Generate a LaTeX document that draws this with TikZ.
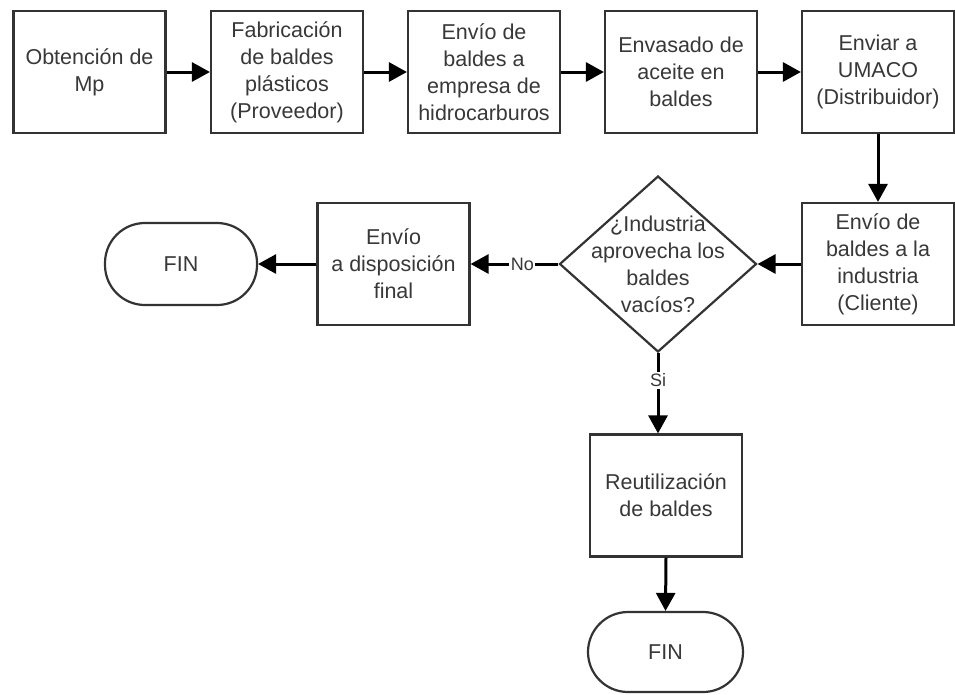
\documentclass[tikz,border=0pt]{standalone}
\usepackage{fontspec}
\setmainfont{Liberation Sans}
\usetikzlibrary{arrows.meta,shapes.geometric}
\definecolor{edge}{HTML}{333333}
\definecolor{ink}{HTML}{383838}
\tikzset{
  proc/.style={draw=edge, line width=2.2pt, fill=white, minimum width=152pt,
    minimum height=122pt, inner sep=2pt, align=center, text=ink,
    font=\fontsize{21.5}{27}\selectfont},
  term/.style={proc, rounded corners=40pt, minimum height=82pt},
  decision/.style={diamond, draw=edge, line width=2.2pt, fill=white,
    minimum width=197pt, minimum height=176pt, inner sep=0pt},
  qtext/.style={align=center, text=ink, inner sep=0pt,
    font=\fontsize{21.5}{27}\selectfont},
  flow/.style={line width=3pt, -{Triangle[length=18pt,width=19pt]}},
  tag/.style={fill=white, inner sep=1.5pt, text=ink,
    font=\fontsize{18}{20}\selectfont}
}
\begin{document}
\begin{tikzpicture}[x=1pt, y=-1pt]
  \fill[white] (0,0) rectangle (955,694);
  \useasboundingbox (0,0) rectangle (955,694);

  % top row
  \node[proc] (b1) at (89.5,72) {Obtención de\\Mp};
  \node[proc] (b2) at (287,72) {Fabricación\\de baldes\\plásticos\\(Proveedor)};
  \node[proc] (b3) at (484,72) {Envío de\\baldes a\\empresa de\\hidrocarburos};
  \node[proc] (b4) at (681,72) {Envasado de\\aceite en\\baldes};
  \node[proc] (b5) at (878,72) {Enviar a\\UMACO\\(Distribuidor)};

  % middle row
  \node[proc] (b6) at (878,264) {Envío de\\baldes a la\\industria\\(Cliente)};
  \node[decision] (d) at (658,264) {};
  \node[qtext] (dq) at (d.center) {¿Industria\\aprovecha los\\baldes\\vacíos?};
  \node[proc] (b7) at (393.5,264) {Envío\\a disposición\\final};
  \node[term] (f1) at (181,264) {FIN};

  % bottom column
  \node[proc] (b8) at (666,495.5) {Reutilización\\de baldes};
  \node[term, minimum width=155pt, minimum height=80pt] (f2) at (665.5,652) {FIN};

  % connectors
  \draw[flow] (b1) -- (b2);
  \draw[flow] (b2) -- (b3);
  \draw[flow] (b3) -- (b4);
  \draw[flow] (b4) -- (b5);
  \draw[flow] (b5) -- (b6);
  \draw[flow] (b6.west) -- (d.east);
  \draw[flow] (d.west) -- (b7.east) node[tag, pos=0.41] (no) {No};
  \draw[flow] (b7.west) -- (f1.east);
  \draw[flow] (d.south) -- (d.south |- b8.north) node[tag, pos=0.34] (si) {Si};
  \draw[flow] (b8.south) -- (f2.north);
\end{tikzpicture}
\end{document}
